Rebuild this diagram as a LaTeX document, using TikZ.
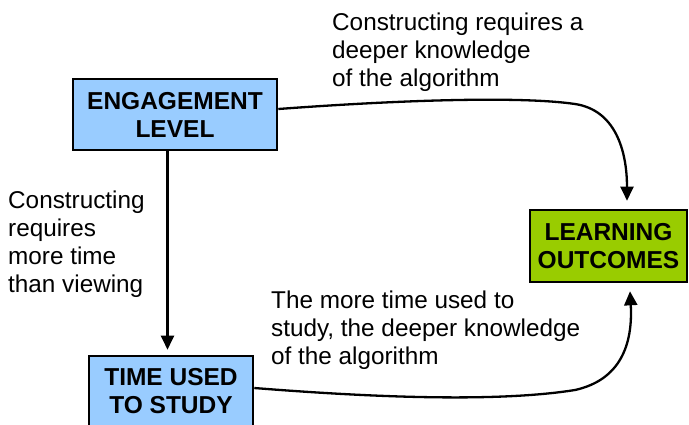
\documentclass[tikz,border=0pt]{standalone}
\usepackage{fontspec}
\setmainfont{Liberation Sans}
\usetikzlibrary{arrows.meta}
\definecolor{cEng}{HTML}{99CCFF}
\definecolor{cOut}{HTML}{99CC00}
\definecolor{cInk}{HTML}{000000}
\tikzset{
  box/.style={draw=cInk, line width=2.6pt, align=center, inner sep=0pt,
              font=\bfseries\fontsize{24.5}{28}\selectfont, text=cInk},
  ebox/.style={box, fill=cEng},
  obox/.style={box, fill=cOut},
  ann/.style={font=\fontsize{24.3}{28}\selectfont, text=cInk, align=left,
              inner sep=0pt, anchor=north west},
  flow/.style={-{Triangle[length=14pt,width=13pt]}, draw=cInk, line width=2.3pt},
}
\begin{document}
\begin{tikzpicture}[x=1pt,y=-1pt]
\useasboundingbox (0,0) rectangle (689,424);

% ================================================== the three boxes
\node[ebox, minimum width=204pt, minimum height=71pt] (eng) at (175,114.5)
      {ENGAGEMENT\\LEVEL};
\node[ebox, minimum width=164pt, minimum height=71pt] (time) at (171,391.5)
      {TIME USED\\TO STUDY};
\node[obox, minimum width=157pt, minimum height=72pt] (learn) at (608.5,246)
      {LEARNING\\OUTCOMES};

% ================================================== connectors
\draw[flow] ([xshift=-7.5pt]eng.south) -- ([xshift=-3.5pt,yshift=5pt]time.north);
\draw[flow] ([yshift=5.5pt]eng.east) .. controls (400,100) and (520,96) .. (575,104)
      .. controls (615,110) and (627,150) .. ([xshift=18.5pt,yshift=8pt]learn.north);
\draw[flow] ([yshift=3.5pt]time.east) .. controls (380,398) and (500,402) .. (575,390)
      .. controls (620,380) and (633,345) .. ([xshift=21.5pt,yshift=-8pt]learn.south);

% ================================================== annotations
\node[ann] (a1) at (332,13)
      {Constructing requires a\\deeper knowledge\\of the algorithm};
\node[ann] (a2) at (8,191)
      {Constructing\\requires\\more time\\than viewing};
\node[ann] (a3) at (271,291)
      {The more time used to\\study, the deeper knowledge\\of the algorithm};

\end{tikzpicture}
\end{document}
